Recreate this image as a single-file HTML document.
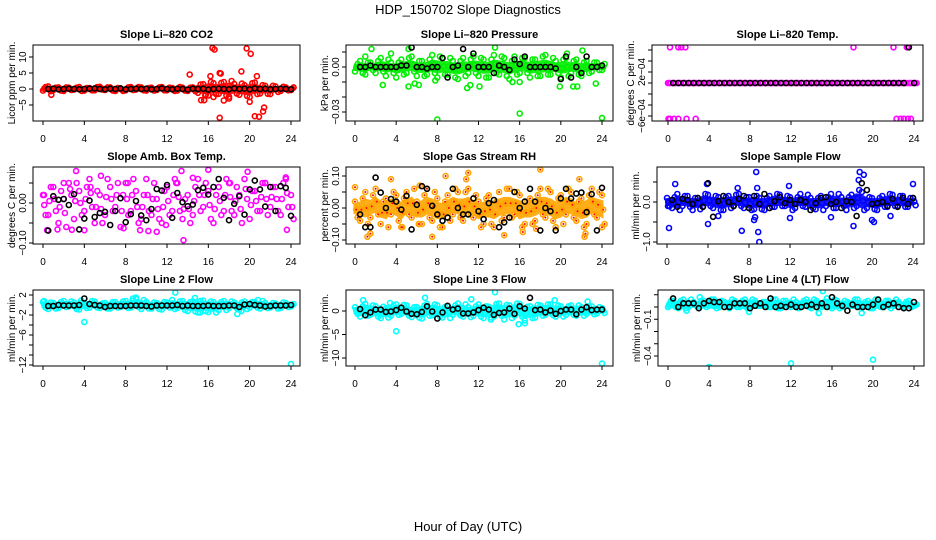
<!DOCTYPE html>
<html><head><meta charset="utf-8"><style>
html,body{margin:0;padding:0;background:#fff;}
svg{display:block;font-family:"Liberation Sans",sans-serif;}
</style></head><body>
<svg id="chart" width="936" height="540" viewBox="0 0 936 540">
<text x="468" y="14" text-anchor="middle" font-size="13">HDP_150702  Slope Diagnostics</text>
<text x="468" y="531" text-anchor="middle" font-size="13">Hour of Day (UTC)</text>
</svg>
<script>
const hours=[0,0.5,1,1.5,2,2.5,3,3.5,4,4.5,5,5.5,6,6.5,7,7.5,8,8.5,9,9.5,10,10.5,11,11.5,12,12.5,13,13.5,14,14.5,15,15.5,16,16.5,17,17.5,18,18.5,19,19.5,20,20.5,21,21.5,22,22.5,23,23.5,24];
const xTicks=[0,4,8,12,16,20,24];

const co2A=[-0.5,0.8,-0.3,0.5,-0.6,0.4,-0.2,0.6,-0.5,0.3,-0.4,0.7,-0.3,0.5,-0.6,0.2,-0.4,0.6,-0.2,0.5,-0.5,0.4,-0.3,0.6,-0.4,0.3,-0.5,0.4,-0.6,0.5,-1.2,1.5,-2.0,1.8,-1.5,2.2,-2.4,1.6,-1.8,1.2,-2.5,2.0,-1.4,1.0,-1.6,0.8,-0.6,0.5,-0.3];
const co2B=[0.6,-0.7,0.4,-0.5,0.5,-0.3,0.4,-0.6,0.3,-0.4,0.6,-0.2,0.5,-0.5,0.3,-0.6,0.5,-0.3,0.6,-0.4,0.3,-0.5,0.5,-0.4,0.4,-0.6,0.6,-0.5,0.4,-0.7,1.4,-1.8,2.2,-1.6,1.9,-2.0,2.5,-1.4,1.7,-2.2,1.8,-1.6,1.2,-1.5,1.0,-0.9,0.7,-0.4,0.5];
const co2Out=[[16.4,12.8],[16.6,12.3],[19.7,12.7],[20.1,11],[19.2,5.5],[17.1,5],[17.2,4.8],[14.2,4.5],[16.2,4],[20.7,4],[15.3,-3.5],[15.6,-3.5],[17.1,-9],[17.5,-3.6],[18,-3],[20,-4],[20.5,-8.5],[20.9,-8.7],[21.3,-7],[21.4,-5.8],[15.7,-2],[0.8,-1.8],[16.5,-2.5]];
const co2K=[0,0,0.1,-0.1,0,0.1,0,-0.1,0,0.1,0.2,0,-0.1,0.1,0,0.2,-0.1,0,0.1,0,0.1,-0.1,0,0.2,0,-0.1,0.1,0,-0.2,0.1,0,0.1,-0.2,0,0.1,0,-0.1,0.2,0,0.1,-0.1,0.2,0,0.1,-0.1,0,0.1,0,-0.1];
const co2YT=[10,5,0,-5];const co2YL=["10","5","0","\u22125"];

const prA=[-0.003,0.004,-0.005,0.003,-0.004,0.006,-0.006,0.003,-0.007,0.005,-0.004,0.007,-0.006,0.004,-0.005,0.008,-0.007,0.006,-0.005,0.004,-0.008,0.006,-0.004,0.007,-0.006,0.005,-0.007,0.008,-0.005,0.006,-0.008,0.007,-0.004,0.006,-0.007,0.005,-0.006,0.008,-0.005,0.004,-0.007,0.006,-0.004,0.005,-0.006,0.004,-0.003,0.003,-0.002];
const prB=[0.002,-0.004,0.003,-0.002,0.004,-0.003,0.005,-0.004,0.003,-0.005,0.006,-0.003,0.004,-0.006,0.005,-0.004,0.007,-0.005,0.006,-0.007,0.004,-0.006,0.005,-0.004,0.006,-0.007,0.005,-0.004,0.007,-0.006,0.004,-0.005,0.006,-0.004,0.005,-0.006,0.007,-0.005,0.006,-0.004,0.005,-0.006,0.004,-0.005,0.003,-0.004,0.003,-0.002,0.002];
const prOut=[[1.6,0.012],[5.2,0.012],[8,-0.035],[16,-0.031],[24,-0.034],[2.7,-0.012],[5.2,-0.013],[5.8,-0.011],[6.2,-0.012],[3.5,0.009],[1,0.007],[10.9,-0.014],[11.2,-0.012],[12.1,-0.013],[13.6,0.013],[15.3,-0.01],[16,-0.01],[19.9,-0.013],[21.2,-0.013],[21.6,-0.013],[22.1,0.011],[23.4,-0.011],[7.8,-0.009],[20.6,0.009]];
const prK=[0,0,0,0.001,0,0,0,0,0,0.001,0.001,0.013,0,0,-0.001,0,0,0.006,-0.007,0,0.001,0.012,0,0.009,0,0,0,-0.004,0.001,0,-0.002,0.005,0.002,0.007,0,0,0,0,0,-0.001,-0.008,0.007,-0.007,0,-0.004,0.007,0,0,0.001];
const prYT=[0.01,0,-0.01,-0.02,-0.03];const prYL=["","0.00","","","\u22120.03"];

const tmA=[0,0,0,0,0,0,0,0,0,0,0,0,0,0,0,0,0,0,0,0,0,0,0,0,0,0,0,0,0,0,0,0,0,0,0,0,0,0,0,0,0,0,0,0,0,0,0,0,0];
const tmB=[0,0,0,0,0,0,0,0,0,0,0,0,0,0,0,0,0,0,0,0,0,0,0,0,0,0,0,0,0,0,0,0,0,0,0,0,0,0,0,0,0,0,0,0,0,0,0,0,0];
const tmOut=[[0.2,0.00065],[1,0.00065],[1.3,0.00065],[1.7,0.00065],[18.1,0.00065],[22,0.00065],[23.3,0.00065],[23.4,0.00065],[0.05,-0.00065],[0.2,-0.00065],[0.6,-0.00065],[1,-0.00065],[1.8,-0.00065],[2.7,-0.00065],[22.3,-0.00065],[22.7,-0.00065],[23,-0.00065],[23.4,-0.00065],[23.7,-0.00065]];
const tmK=[0,0,0,0,0,0,0,0,0,0,0,0,0,0,0,0,0,0,0,0,0,0,0,0,0,0,0,0,0,0,0,0,0,0,0,0,0,0,0,0,0,0,0,0,0,0,0,0.00065,0];
const tmYT=[0.0006,0.0004,0.0002,0,-0.0002,-0.0004,-0.0006];const tmYL=["","","2e\u221204","","","","\u22126e\u221204"];

const abA=[0.02,-0.03,0.04,-0.05,0.01,0.05,-0.04,0.03,-0.02,0.06,-0.05,0.02,-0.03,0.04,-0.01,-0.06,0.05,-0.02,0.03,-0.04,0.06,-0.03,0.01,-0.05,0.04,-0.02,0.05,-0.04,0.02,-0.03,0.06,-0.01,0.03,-0.05,0.04,-0.02,0.05,-0.03,0.02,0.06,-0.04,0.03,-0.02,0.05,-0.01,0.04,-0.03,0.06,0.02];
const abB=[-0.03,0.04,-0.02,0.03,-0.06,0.02,0.05,-0.03,0.04,-0.01,0.03,-0.05,0.06,-0.02,0.05,0.02,-0.03,0.06,-0.05,0.02,-0.02,0.05,-0.04,0.03,-0.03,0.06,-0.02,0.01,-0.05,0.04,-0.02,0.05,-0.04,0.02,-0.03,0.06,-0.02,0.04,-0.05,0.01,0.03,-0.02,0.05,-0.03,0.04,-0.02,0.05,-0.01,-0.04];
const abOut=[[3.2,0.08],[13.4,0.08],[16,0.083],[19.8,0.078],[5.6,0.068],[14.5,0.063],[23.5,0.064],[13.6,-0.093],[0.4,-0.068],[1.4,-0.066],[2.8,-0.067],[4,-0.068],[9.4,-0.068],[10.2,-0.07],[11,-0.072],[23.6,-0.067],[7.8,-0.063],[11.9,-0.055],[0.1,0.02],[2,0.05],[4.6,0.04],[8.2,0.05],[12.9,0.05],[18.1,0.05],[21.5,0.05]];
const abK=[-0.069,-0.069,0.017,0.008,0.01,-0.005,0.022,-0.066,-0.039,0.006,-0.035,-0.025,-0.022,-0.055,-0.02,0.012,-0.048,-0.028,0.005,-0.031,-0.043,-0.015,0.035,0.031,0.045,-0.037,0.025,0.002,-0.008,-0.004,0.032,0.038,0.021,0.04,0.06,0.013,-0.043,-0.002,0.017,-0.029,0.034,0.056,0.034,-0.009,0.04,-0.02,0.042,0.038,-0.032];
const abYT=[0.05,0,-0.05,-0.1];const abYL=["","0.00","","\u22120.10"];

const rhA=[0.02,-0.04,0.05,-0.03,0.06,-0.05,0.03,-0.02,0.04,-0.06,0.05,-0.03,0.02,-0.05,0.06,-0.04,0.03,-0.06,0.04,-0.02,0.05,-0.04,0.06,-0.03,0.02,-0.05,0.04,-0.06,0.05,-0.03,0.06,-0.02,0.04,-0.05,0.03,-0.04,0.06,-0.03,0.05,-0.06,0.04,-0.02,0.05,-0.04,0.03,-0.05,0.06,-0.03,0.04];
const rhB=[-0.03,0.03,-0.05,0.04,-0.02,0.02,-0.06,0.05,-0.04,0.03,-0.02,0.06,-0.05,0.04,-0.03,0.05,-0.06,0.02,-0.04,0.06,-0.03,0.05,-0.02,0.04,-0.06,0.03,-0.05,0.02,-0.04,0.06,-0.03,0.05,-0.06,0.02,-0.05,0.04,-0.02,0.06,-0.04,0.03,-0.05,0.06,-0.03,0.02,-0.06,0.04,-0.02,0.05,-0.05];
const rhOut=[[0,0.065],[1.2,-0.09],[1.5,-0.08],[3.5,0.09],[4.6,-0.06],[6.2,-0.05],[7.5,-0.09],[11,0.11],[18,0.12],[14.5,-0.085],[16.3,-0.075],[22.3,-0.09],[22.4,-0.08],[24,-0.06],[8.8,0.1],[17.6,-0.065],[10.8,0.09],[21.8,0.09],[6.3,0.07]];
const rhK=[-0.02,-0.02,-0.06,-0.06,0.095,0.048,0.0,0.028,0.02,-0.005,0.038,-0.067,0.01,0.068,0.06,0.007,-0.02,-0.04,-0.03,0.06,0.0,-0.02,-0.02,0.03,-0.01,-0.035,0.015,0.025,-0.06,-0.045,-0.03,0.05,0.0,0.02,0.06,0.02,-0.07,0.0,-0.01,-0.07,0.03,0.06,0.03,0.045,0.048,-0.013,0.043,-0.07,0.063];
const rhYT=[0.1,0.05,0,-0.05,-0.1];const rhYL=["0.10","","0.00","","\u22120.10"];

const sfA=[0.1,-0.15,0.2,-0.1,0.15,-0.2,0.1,-0.12,0.18,-0.15,0.12,-0.2,0.15,-0.1,0.2,-0.15,0.12,-0.18,0.1,-0.2,0.15,-0.12,0.18,-0.1,0.12,-0.15,0.2,-0.12,0.1,-0.18,0.15,-0.1,0.2,-0.15,0.12,-0.2,0.18,-0.1,0.25,-0.15,0.1,-0.2,0.15,-0.12,0.18,-0.1,0.15,-0.12,0.1];
const sfB=[-0.1,0.12,-0.2,0.15,-0.12,0.1,-0.18,0.2,-0.1,0.15,-0.2,0.12,-0.15,0.18,-0.1,0.12,-0.2,0.15,-0.18,0.1,-0.12,0.2,-0.1,0.15,-0.2,0.12,-0.1,0.18,-0.15,0.1,-0.2,0.12,-0.15,0.2,-0.1,0.12,-0.15,0.3,-0.2,0.12,-0.18,0.1,-0.12,0.2,-0.1,0.15,-0.12,0.1,-0.08];
const sfOut=[[8.7,0.75],[18.8,0.75],[19.2,0.68],[18.7,0.55],[0.2,-0.65],[4,-0.55],[7.3,-0.72],[8.5,-0.45],[8.9,-0.75],[9,-1.0],[18.2,-0.6],[20,-0.45],[21.8,-0.35],[12,-0.4],[24,0.45],[0.8,0.45],[3.9,0.45],[6.9,0.35],[8.8,0.35],[11.9,0.4],[5,-0.35],[16,-0.38],[0.1,-0.1],[20.2,-0.5],[8.6,-0.38]];
const sfK=[0,0.05,-0.12,0.08,0.05,-0.05,0.1,-0.12,0.47,-0.37,0.02,0.15,0,-0.1,0.08,0.15,-0.15,0.15,-0.05,0.2,-0.15,0.02,0.12,-0.03,0.05,-0.05,0.05,0.0,-0.2,-0.03,0.1,0.12,-0.05,0.0,-0.15,0.02,0.0,-0.35,0.47,0.3,-0.05,-0.03,0.0,-0.1,0.08,-0.12,0.1,-0.05,0.1];
const sfYT=[0.5,0,-0.5,-1];const sfYL=["","0.0","","\u22121.0"];

const l2A=[0.6,-0.8,0.4,-0.6,0.8,-0.3,0.5,-0.9,0.3,-0.5,0.7,-0.6,0.4,-0.7,0.6,-0.4,0.8,-0.5,1.2,-0.8,0.6,-0.7,0.4,-0.9,0.5,1.0,-0.6,0.8,-1.2,0.7,-1.5,0.9,-1.4,0.6,-1.0,0.8,-0.6,0.5,-0.9,0.7,-0.5,0.6,-0.7,0.4,-0.5,0.3,-0.6,0.4,-0.3];
const l2B=[-0.5,0.5,-0.7,0.6,-0.4,0.7,-0.8,0.4,-0.6,0.8,-0.5,0.3,-0.7,0.6,-0.5,0.7,-0.6,0.9,-0.4,1.0,-0.7,0.5,-0.8,0.6,-0.5,-0.8,0.7,-1.0,0.6,-1.3,0.8,-1.2,0.7,-1.5,0.6,-1.0,0.7,-0.6,0.5,-0.8,0.6,-0.5,0.8,-0.6,0.4,-0.7,0.5,-0.4,0.2];
const l2Out=[[4,-3.4],[24,-11.8],[12.8,2.5],[18.8,-1.8],[19.2,-1.2],[9,1.5],[8.7,1.3],[0.1,0.8],[15.2,-1.5],[14.7,1.4],[3.7,0.9],[20.8,1.0]];
const l2K=[0,-0.2,-0.2,0,-0.1,-0.1,-0.1,0,1.3,0.2,0,-0.1,-0.4,-0.2,-0.2,-0.2,-0.2,-0.1,-0.1,-0.1,-0.2,-0.3,-0.1,-0.1,-0.1,-0.1,0,-0.2,-0.1,-0.2,-0.2,-0.2,-0.1,-0.2,-0.2,-0.2,-0.1,-0.1,-0.4,0.1,0.2,0,-0.1,-0.3,-0.2,-0.1,-0.1,-0.1,0];
const l2YT=[2,0,-2,-4,-6,-8,-10,-12];const l2YL=["2","","\u22122","","\u22126","","","\u221212"];

const l3A=[0.8,-1.2,1.5,-0.8,1.0,-1.5,0.6,-1.0,1.4,-0.6,1.2,-1.3,0.8,-1.6,1.5,-0.9,1.2,-1.4,1.0,-0.8,1.6,-1.2,0.8,-1.0,1.4,-1.5,0.9,-1.2,1.6,-1.8,1.2,-1.0,1.5,-2.0,1.0,-1.4,1.2,-0.8,1.4,-1.2,1.0,-0.8,1.2,-1.0,0.8,-0.6,1.0,-0.5,0.6];
const l3B=[-0.6,1.0,-1.0,1.2,-1.2,0.9,-1.4,1.2,-0.8,1.3,-1.0,0.8,-1.4,1.2,-1.0,1.4,-1.2,0.9,-1.5,1.2,-0.9,1.4,-1.3,1.0,-1.2,1.0,-1.4,1.5,-1.0,1.3,-1.5,1.6,-1.2,0.9,-1.5,1.3,-1.0,1.4,-0.9,1.2,-1.2,1.0,-0.8,1.2,-1.0,0.9,-0.7,0.8,-0.4];
const l3Out=[[4,-4.3],[24,-11.2],[13.6,4],[15.9,-2.8],[16.5,-2.6],[0.8,2.3],[6.8,2.8],[13.2,-1.8],[3.4,1.7],[11.3,2.5],[19.4,2.3],[22.6,2.0]];
const l3K=[0,0.4,-0.9,-0.3,0.3,0.3,-0.2,-0.1,0.2,0.7,-0.1,-0.6,-0.7,-0.2,1.0,-0.1,-1.6,-0.3,1.1,0.3,0.5,-0.5,-0.5,-0.3,0.2,0.7,0.3,-0.8,-0.4,-0.3,0.5,-0.6,1.0,0.5,2.8,0.2,0.3,-0.3,0.1,-0.6,0.0,0.3,0.3,-0.7,0.3,0.8,0.2,0.3,0.3];
const l3YT=[0,-5,-10];const l3YL=["0","\u22125","\u221210"];

const l4A=[0.0,0.05,-0.01,0.06,0.0,0.04,-0.01,0.05,0.01,0.06,0.0,0.04,-0.01,0.05,0.0,0.06,-0.01,0.05,0.01,0.04,0.0,0.06,-0.01,0.05,0.0,0.04,0.01,0.06,-0.01,0.05,0.0,0.07,-0.01,0.05,0.0,0.04,0.01,0.06,0.0,0.05,-0.01,0.06,0.0,0.05,0.01,0.04,0.0,0.05,0.01];
const l4B=[0.04,0.0,0.05,-0.01,0.06,0.01,0.05,0.0,0.06,-0.01,0.05,0.01,0.06,0.0,0.05,-0.01,0.06,0.01,0.04,0.0,0.06,-0.01,0.05,0.01,0.06,-0.01,0.05,0.0,0.06,0.01,0.04,0.0,0.06,-0.01,0.05,0.01,0.06,0.0,0.04,-0.01,0.06,0.0,0.05,-0.01,0.06,0.01,0.04,0.0,0.02];
const l4Out=[[4,-0.49],[12,-0.46],[20,-0.43],[15.1,0.13],[0.3,0.05],[3.1,0.08],[14.7,-0.05],[18.9,-0.05],[1.8,-0.03],[7.9,-0.04]];
const l4K=[0.02,0.07,0.0,0.03,0.03,0.03,-0.01,0.03,0.05,0.04,0.04,0.0,0.0,0.03,0.03,0.03,-0.01,0.01,0.03,0.0,0.07,0.0,0.01,0.0,0.02,0.0,0.0,0.01,0.02,0.0,0.03,0.0,0.08,0.03,0.01,-0.03,0.02,0.0,0.0,0.0,0.02,0.06,0.0,0.02,0.03,0.0,-0.01,-0.01,0.04];
const l4YT=[0.1,0,-0.1,-0.2,-0.3,-0.4];const l4YL=["","","\u22120.1","","","\u22120.4"];

const svg=document.getElementById('chart');
const NS='http://www.w3.org/2000/svg';
function mk(tag,attrs,parent){const e=document.createElementNS(NS,tag);for(const k in attrs)e.setAttribute(k,attrs[k]);(parent||svg).appendChild(e);return e;}

function panel(p){
  const g=mk('g',{});
  
  
  const xs=h=>p.x0+(p.x24-p.x0)*h/24;
  const ys=v=>p.py1+(v-p.v1)*(p.py2-p.py1)/(p.v2-p.v1);
  const clipId='clip-'+p.name;
  const cp=mk('clipPath',{id:clipId},g);
  mk('rect',{x:p.bx0,y:p.by0,width:p.bx1-p.bx0,height:p.by1-p.by0},cp);
  const pts=mk('g',{'clip-path':'url(#'+clipId+')'},g);
  
  
  if(p.band){
    // dense core band derived from the two series envelopes
    let top='',bot=[];
    hours.forEach((h,i)=>{
      const lo=Math.min(p.A[i],p.B[i])*p.band, hi=Math.max(p.A[i],p.B[i])*p.band;
      top+=(i?'L':'M')+xs(h).toFixed(1)+','+ys(hi).toFixed(1);
      bot.unshift('L'+xs(h).toFixed(1)+','+ys(lo).toFixed(1));
    });
    const bp=mk('path',{d:top+bot.join('')+'Z',fill:p.col,stroke:p.col,'stroke-width':3,opacity:0.9},pts);
    
    
  }
  const dot=(h,v,col,inner)=>{
    mk('circle',{cx:xs(h).toFixed(1),cy:ys(v).toFixed(1),r:2.5,fill:'none',stroke:col,'stroke-width':1.6},pts);
    if(inner)mk('circle',{cx:xs(h).toFixed(1),cy:ys(v).toFixed(1),r:1,fill:inner},pts);
  };
  hours.forEach((h,i)=>{dot(h,p.A[i],p.col,p.inner);dot(h+0.25,p.B[i],p.col,p.inner);dot(h+0.12,(p.A[i]+p.B[i])/2,p.col,p.inner);});
  p.out.forEach(o=>dot(o[0],o[1],p.col,p.inner));
  hours.forEach((h,i)=>{if(h>0.2)dot(h,p.K[i],'#000');});
  const box=mk('rect',{x:p.bx0,y:p.by0,width:p.bx1-p.bx0,height:p.by1-p.by0,fill:'none',stroke:'#000','stroke-width':1},g);
  
  
  xTicks.forEach(t=>{
    const x=xs(t);
    mk('line',{x1:x,y1:p.by1,x2:x,y2:p.by1+4,stroke:'#000'},g);
    const tl=mk('text',{x:x,y:p.by1+21,'text-anchor':'middle','font-size':10},g);
    tl.textContent=t;
    
    
  });
  p.yt.forEach((t,i)=>{
    const y=ys(t);
    mk('line',{x1:p.bx0-4,y1:y,x2:p.bx0,y2:y,stroke:'#000'},g);
    if(p.yl[i]){
      const tl=mk('text',{x:0,y:0,'text-anchor':'middle','font-size':10,transform:'translate('+(p.bx0-7)+','+y+') rotate(-90)'},g);
      tl.textContent=p.yl[i];
      
      
    }
  });
  const cy=(p.by0+p.by1)/2;
  const yl=mk('text',{x:0,y:0,'text-anchor':'middle','font-size':10,transform:'translate('+(p.bx0-18)+','+cy+') rotate(-90)'},g);
  yl.textContent=p.ylab;
  
  
  const tt=mk('text',{x:(p.bx0+p.bx1)/2,y:p.by0-7,'text-anchor':'middle','font-size':11,'font-weight':'bold'},g);
  tt.textContent=p.title;
  
  
}

panel({name:'panel-co2',title:'Slope Li\u2013820 CO2',ylab:'Licor ppm per min.',bx0:33,by0:45,bx1:300,by1:121,x0:43,x24:291,v1:0,py1:89,v2:10,py2:57,A:co2A,B:co2B,out:co2Out,K:co2K,yt:co2YT,yl:co2YL,col:'#ff0000',band:0.6});
panel({name:'panel-pressure',title:'Slope Li\u2013820 Pressure',ylab:'kPa per min.',bx0:346,by0:45,bx1:613,by1:121,x0:355,x24:602,v1:0,py1:67,v2:-0.03,py2:112,A:prA,B:prB,out:prOut,K:prK,yt:prYT,yl:prYL,col:'#00ee00',band:0.5});
panel({name:'panel-temp',title:'Slope Li\u2013820 Temp.',ylab:'degrees C per min.',bx0:652,by0:45,bx1:923,by1:121,x0:668,x24:914,v1:0,py1:83,v2:0.0002,py2:72,A:tmA,B:tmB,out:tmOut,K:tmK,yt:tmYT,yl:tmYL,col:'#ff00ff'});
panel({name:'panel-amb-box-temp',title:'Slope Amb. Box Temp.',ylab:'degrees C per min.',bx0:33,by0:167,bx1:300,by1:244,x0:43,x24:291,v1:0,py1:203,v2:-0.1,py2:243,A:abA,B:abB,out:abOut,K:abK,yt:abYT,yl:abYL,col:'#ff00ff'});
panel({name:'panel-gas-rh',title:'Slope Gas Stream RH',ylab:'percent per min.',bx0:346,by0:167,bx1:613,by1:244,x0:355,x24:602,v1:0,py1:208,v2:0.1,py2:176,A:rhA,B:rhB,out:rhOut,K:rhK,yt:rhYT,yl:rhYL,col:'#ffa500',inner:'#ff0000',band:0.5});
panel({name:'panel-sample-flow',title:'Slope Sample Flow',ylab:'ml/min per min.',bx0:657,by0:167,bx1:924,by1:244,x0:667,x24:913,v1:0,py1:202,v2:-1,py2:242,A:sfA,B:sfB,out:sfOut,K:sfK,yt:sfYT,yl:sfYL,col:'#0000ff',band:0.6});
panel({name:'panel-line2-flow',title:'Slope Line 2 Flow',ylab:'ml/min per min.',bx0:33,by0:290,bx1:300,by1:366,x0:43,x24:291,v1:0,py1:305,v2:-12,py2:365,A:l2A,B:l2B,out:l2Out,K:l2K,yt:l2YT,yl:l2YL,col:'#00ffff',band:0.7});
panel({name:'panel-line3-flow',title:'Slope Line 3 Flow',ylab:'ml/min per min.',bx0:346,by0:290,bx1:613,by1:366,x0:355,x24:602,v1:0,py1:311,v2:-10,py2:358,A:l3A,B:l3B,out:l3Out,K:l3K,yt:l3YT,yl:l3YL,col:'#00ffff',band:0.7});
panel({name:'panel-line4-flow',title:'Slope Line 4 (LT) Flow',ylab:'ml/min per min.',bx0:658,by0:290,bx1:924,by1:366,x0:668,x24:914,v1:0,py1:307,v2:-0.4,py2:356,A:l4A,B:l4B,out:l4Out,K:l4K,yt:l4YT,yl:l4YL,col:'#00ffff',band:0.8});
</script>
</body></html>
